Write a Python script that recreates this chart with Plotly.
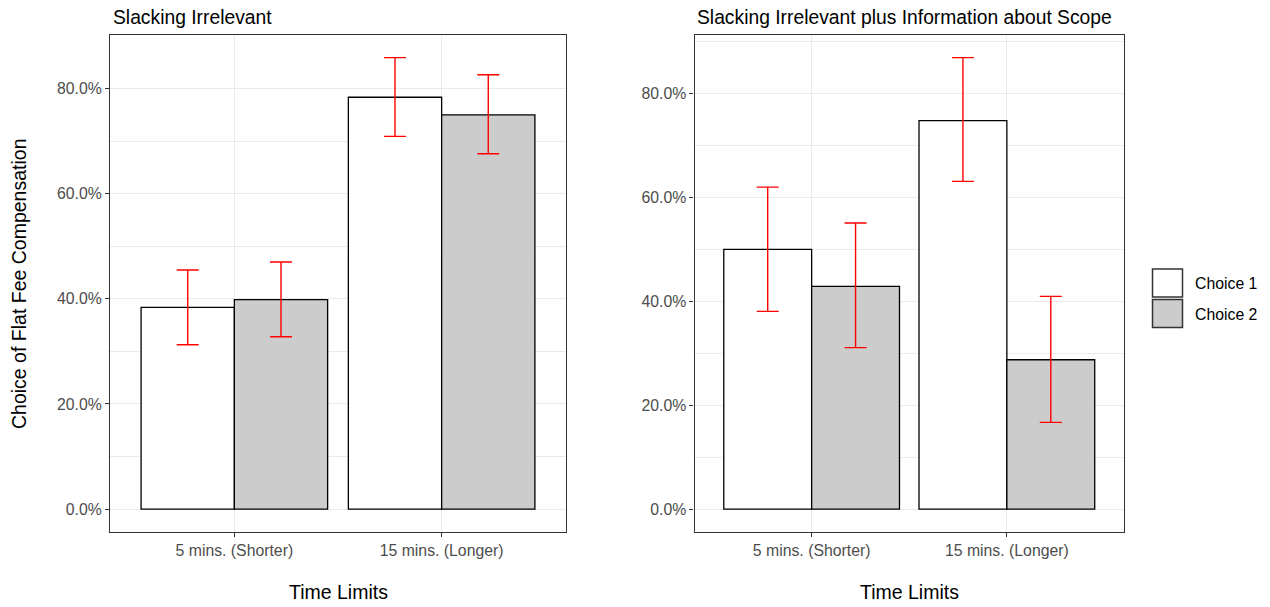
import plotly.graph_objects as go

# ---------------- data ----------------
categories = ["5 mins. (Shorter)", "15 mins. (Longer)"]
series_names = ["Choice 1", "Choice 2"]

left_title = "Slacking Irrelevant"
left_choice1 = [0.3836, 0.7833]
left_choice1_low = [0.3127, 0.7090]
left_choice1_high = [0.4548, 0.8588]
left_choice2 = [0.3983, 0.7498]
left_choice2_low = [0.3279, 0.6760]
left_choice2_high = [0.4700, 0.8260]

right_title = "Slacking Irrelevant plus Information about Scope"
right_choice1 = [0.500, 0.748]
right_choice1_low = [0.3807, 0.631]
right_choice1_high = [0.620, 0.8694]
right_choice2 = [0.429, 0.2876]
right_choice2_low = [0.311, 0.167]
right_choice2_high = [0.551, 0.4096]

y_ticks = [0.0, 0.2, 0.4, 0.6, 0.8]
x_title = "Time Limits"
y_title = "Choice of Flat Fee Compensation"

# ---------------- style ----------------
W, H = 1270, 607
FONT = "Liberation Sans, Arial, sans-serif"
fills = ["#FFFFFF", "#CCCCCC"]
GRID = "#EBEBEB"
BORDER = "#333333"
TICKTXT = "#4D4D4D"


def px_x(x):
    return x / W


def px_y(y):
    return 1 - y / H


fig = go.Figure()

panels = [
    ("x", "y", [left_choice1, left_choice2],
     [left_choice1_low, left_choice2_low], [left_choice1_high, left_choice2_high]),
    ("x2", "y2", [right_choice1, right_choice2],
     [right_choice1_low, right_choice2_low], [right_choice1_high, right_choice2_high]),
]

for xa, ya, vals, lows, highs in panels:
    for i, name in enumerate(series_names):
        v = vals[i]
        up = [h - a for h, a in zip(highs[i], v)]
        dn = [a - l for a, l in zip(v, lows[i])]
        fig.add_trace(go.Bar(
            x=categories, y=v, name=name, xaxis=xa, yaxis=ya,
            offsetgroup=str(i), showlegend=False,
            marker=dict(color=fills[i], line=dict(color="#000000", width=1.3)),
            error_y=dict(type="data", symmetric=False, array=up, arrayminus=dn,
                         color="#FF0000", thickness=1.4, width=11),
        ))


def yrange(highs):
    m = max(max(h) for h in highs)
    return [-0.05 * m, 1.05 * m]


common_x = dict(
    type="category", range=[-0.6, 1.6], showgrid=True, gridcolor=GRID, gridwidth=1.1,
    showline=True, mirror=True, linecolor=BORDER, linewidth=1.2,
    ticks="outside", ticklen=4, tickcolor=BORDER, tickwidth=1.1,
    tickfont=dict(family=FONT, size=15.8, color=TICKTXT), zeroline=False,
)
common_y = dict(
    tickvals=y_ticks, tickformat=".1%", showgrid=True, gridcolor=GRID, gridwidth=1.1,
    minor=dict(dtick=0.1, tick0=0, showgrid=True, gridcolor=GRID, gridwidth=0.6, ticks=""),
    showline=True, mirror=True, linecolor=BORDER, linewidth=1.2,
    ticks="outside", ticklen=4, tickcolor=BORDER, tickwidth=1.1,
    tickfont=dict(family=FONT, size=15.8, color=TICKTXT), zeroline=False,
)

yd = [px_y(531.7), px_y(35)]
fig.update_layout(
    width=W, height=H, autosize=False,
    margin=dict(l=0, r=0, t=0, b=0),
    paper_bgcolor="white", plot_bgcolor="white",
    barmode="group", bargap=0.1, bargroupgap=0,
    showlegend=False,
    font=dict(family=FONT),
    xaxis=dict(common_x, domain=[px_x(110), px_x(566)], anchor="y"),
    yaxis=dict(common_y, domain=yd, anchor="x",
               range=yrange([left_choice1_high, left_choice2_high])),
    xaxis2=dict(common_x, domain=[px_x(694.5), px_x(1124)], anchor="y2"),
    yaxis2=dict(common_y, domain=yd, anchor="x2",
                range=yrange([right_choice1_high, right_choice2_high])),
)

annotations = []
# panel titles
for xp, t in [(110.5, left_title), (694.5, right_title)]:
    annotations.append(dict(x=px_x(xp), y=px_y(17.5), xref="paper", yref="paper",
                            text=t, showarrow=False, xanchor="left", yanchor="middle",
                            font=dict(family=FONT, size=19.3, color="#000000")))
# x axis titles
for xc in [(110 + 566) / 2, (694.5 + 1124) / 2]:
    annotations.append(dict(x=px_x(xc), y=px_y(592), xref="paper", yref="paper",
                            text=x_title, showarrow=False, xanchor="center", yanchor="middle",
                            font=dict(family=FONT, size=19.5, color="#000000")))
# y axis title
annotations.append(dict(x=px_x(19), y=px_y(284), xref="paper", yref="paper",
                        text=y_title, showarrow=False, textangle=-90,
                        xanchor="center", yanchor="middle",
                        font=dict(family=FONT, size=19.5, color="#000000")))

# legend (drawn manually to match ggplot key size)
shapes = []
key_boxes = [(269, 297), (299.5, 327.5)]
for i, name in enumerate(series_names):
    y0, y1 = key_boxes[i]
    shapes.append(dict(type="rect", xref="paper", yref="paper",
                       x0=px_x(1152.5), x1=px_x(1182.5), y0=px_y(y1), y1=px_y(y0),
                       fillcolor=fills[i], line=dict(color=BORDER, width=1.5)))
    annotations.append(dict(x=px_x(1193), y=px_y((y0 + y1) / 2 + 0.5), xref="paper", yref="paper",
                            text=name, showarrow=False, xanchor="left", yanchor="middle",
                            font=dict(family=FONT, size=15.8, color="#000000")))

fig.update_layout(annotations=annotations, shapes=shapes)

fig.write_html(
    "out.html",
    config={"displayModeBar": False},
    post_script="document.body.style.margin='0px';document.body.style.padding='0px';"
                "document.documentElement.style.overflow='hidden';",
)
